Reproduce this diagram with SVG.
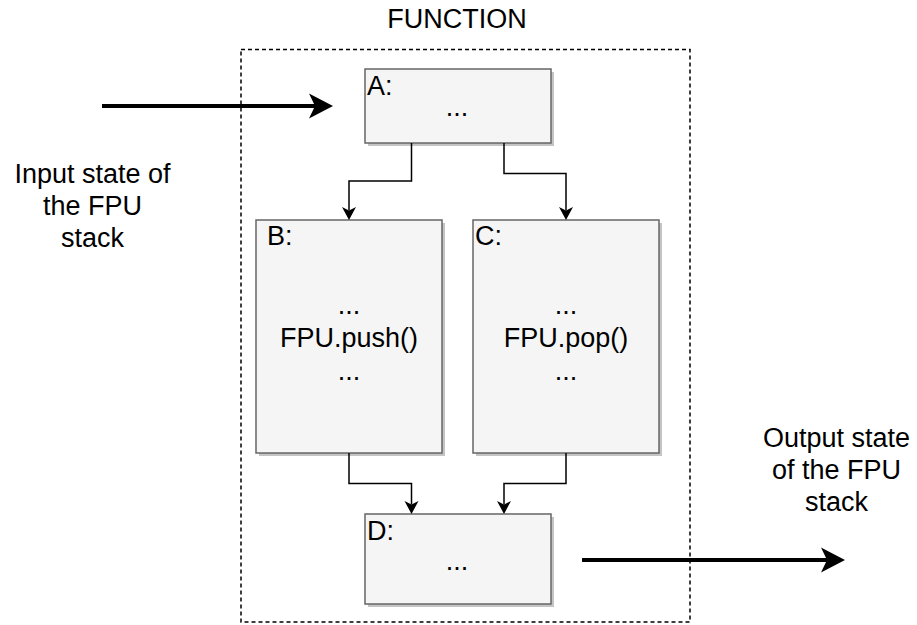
<svg xmlns="http://www.w3.org/2000/svg" width="917" height="625" viewBox="0 0 917 625">
  <defs>
    <style>
      text { font-family: "Liberation Sans", Arial, sans-serif; font-size: 27px; fill: #000; }
      .mid { text-anchor: middle; }
      .box { fill: #f5f5f5; stroke: #666666; stroke-width: 1.5; }
      .shadow { fill: #c4c4c4; stroke: none; }
      .frame { fill: none; stroke: #000; stroke-width: 1.5; stroke-dasharray: 4 3; }
      .edge { fill: none; stroke: #000; stroke-width: 1.5; marker-end: url(#arrow); }
      .flow { fill: none; stroke: #000; stroke-width: 4; marker-end: url(#bigArrow); }
    </style>
    <marker id="arrow" markerUnits="userSpaceOnUse" markerWidth="14" markerHeight="16" viewBox="0 -8 14 16" refX="3.5" refY="0" orient="auto">
      <path d="M13,0 L0,-7 L3.5,0 L0,7 Z" fill="#000"/>
    </marker>
    <marker id="bigArrow" markerUnits="userSpaceOnUse" markerWidth="26" markerHeight="28" viewBox="0 -14 26 28" refX="6" refY="0" orient="auto">
      <path d="M24,0 L0,-12.5 L6,0 L0,12.5 Z" fill="#000"/>
    </marker>
  </defs>

  <rect fill="#ffffff" x="0" y="0" width="917" height="625"/>

  <!-- function boundary -->
  <g id="function">
    <rect class="frame" x="241" y="49.5" width="449" height="572.5"/>
    <text class="mid" x="457" y="28">FUNCTION</text>
  </g>

  <!-- external labels -->
  <g id="input-label">
    <text class="mid" x="92.5" y="183">Input state of</text>
    <text class="mid" x="92.5" y="215">the FPU</text>
    <text class="mid" x="92.5" y="247">stack</text>
  </g>
  <g id="output-label">
    <text class="mid" x="836.5" y="447">Output state</text>
    <text class="mid" x="836.5" y="479">of the FPU</text>
    <text class="mid" x="836.5" y="511">stack</text>
  </g>

  <!-- blocks -->
  <g id="block-a">
    <rect class="shadow" x="368" y="72" width="186" height="74"/>
    <rect class="box" x="365" y="69" width="186" height="74"/>
    <text x="367" y="95">A:</text>
    <text class="mid" x="457" y="116">...</text>
  </g>
  <g id="block-b">
    <rect class="shadow" x="259" y="223" width="186" height="233"/>
    <rect class="box" x="256" y="220" width="186" height="233"/>
    <text x="267" y="245">B:</text>
    <text class="mid" x="349" y="314">...</text>
    <text class="mid" x="349" y="347">FPU.push()</text>
    <text class="mid" x="349" y="380">...</text>
  </g>
  <g id="block-c">
    <rect class="shadow" x="476" y="223" width="186" height="233"/>
    <rect class="box" x="473" y="220" width="186" height="233"/>
    <text x="475" y="245">C:</text>
    <text class="mid" x="566" y="314">...</text>
    <text class="mid" x="566" y="347">FPU.pop()</text>
    <text class="mid" x="566" y="380">...</text>
  </g>
  <g id="block-d">
    <rect class="shadow" x="368" y="517" width="186" height="90"/>
    <rect class="box" x="365" y="514" width="186" height="90"/>
    <text x="367" y="540">D:</text>
    <text class="mid" x="457" y="570">...</text>
  </g>

  <!-- connectors -->
  <g id="connectors">
    <path class="edge" d="M411.5,143 V181 H349 V210.5"/>
    <path class="edge" d="M504,143 V173.5 H566 V210.5"/>
    <path class="edge" d="M349,453 V483.5 H411.5 V504.5"/>
    <path class="edge" d="M566,453 V483.5 H504 V504.5"/>
    <path class="flow" d="M102,106 H315"/>
    <path class="flow" d="M582,560 H827"/>
  </g>
</svg>
